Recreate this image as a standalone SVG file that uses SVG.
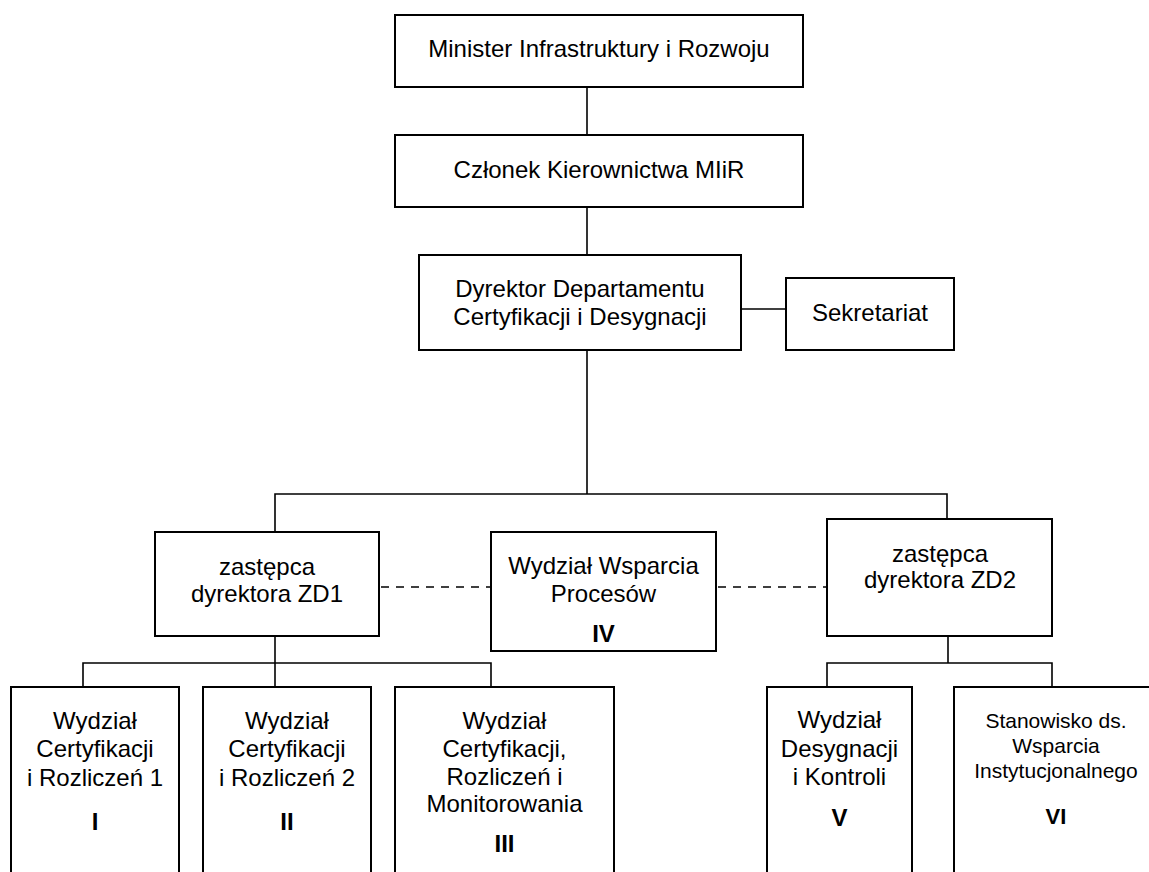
<svg xmlns="http://www.w3.org/2000/svg" width="1149" height="872" viewBox="0 0 1149 872">
<style>
.box{fill:#fff;stroke:#000;stroke-width:2}
.ln{fill:none;stroke:#000;stroke-width:1.6}
.dash{fill:none;stroke:#000;stroke-width:1.6;stroke-dasharray:8 7}
text{font-family:"Liberation Sans",Arial,sans-serif;font-size:24px;fill:#000;text-anchor:middle}
.b{font-weight:bold}
.s{font-size:21px}
</style>
<rect width="1149" height="872" fill="#fff"/>
<g id="connectors">
<line class="ln" x1="587" y1="87" x2="587" y2="135"/>
<line class="ln" x1="587" y1="207" x2="587" y2="255"/>
<line class="ln" x1="741" y1="309" x2="786" y2="309"/>
<polyline class="ln" points="587,350 587,494"/>
<polyline class="ln" points="275,532 275,494 947,494 947,519"/>
<polyline class="ln" points="275,636 275,687"/>
<polyline class="ln" points="83,687 83,663 491,663 491,687"/>
<polyline class="ln" points="948,636 948,663"/>
<polyline class="ln" points="827,687 827,663 1052,663 1052,687"/>
<line class="dash" x1="381" y1="587" x2="491" y2="587"/>
<line class="dash" x1="718" y1="587" x2="827" y2="587"/>
</g>
<g id="minister">
<rect class="box" x="395" y="15" width="408" height="72"/>
<text x="599" y="57">Minister Infrastruktury i Rozwoju</text>
</g>
<g id="czlonek">
<rect class="box" x="395" y="135" width="408" height="72"/>
<text x="599" y="178">Członek Kierownictwa MIiR</text>
</g>
<g id="dyrektor">
<rect class="box" x="419" y="255" width="322" height="95"/>
<text x="580" y="297">Dyrektor Departamentu</text>
<text x="580" y="325">Certyfikacji i Desygnacji</text>
</g>
<g id="sekretariat">
<rect class="box" x="786" y="278" width="168" height="72"/>
<text x="870" y="321">Sekretariat</text>
</g>
<g id="zd1">
<rect class="box" x="155" y="532" width="224" height="104"/>
<text x="267" y="575">zastępca</text>
<text x="267" y="602">dyrektora ZD1</text>
</g>
<g id="wwp">
<rect class="box" x="491" y="532" width="225" height="119"/>
<text x="603.5" y="574">Wydział Wsparcia</text>
<text x="603.5" y="602">Procesów</text>
<text class="b" x="603.5" y="642">IV</text>
</g>
<g id="zd2">
<rect class="box" x="827" y="519" width="225" height="117"/>
<text x="940" y="562">zastępca</text>
<text x="940" y="588">dyrektora ZD2</text>
</g>
<g id="w1">
<rect class="box" x="11" y="687" width="168" height="200"/>
<text x="95" y="729">Wydział</text>
<text x="95" y="757">Certyfikacji</text>
<text x="95" y="786">i Rozliczeń 1</text>
<text class="b" x="95" y="830">I</text>
</g>
<g id="w2">
<rect class="box" x="203" y="687" width="168" height="200"/>
<text x="287" y="729">Wydział</text>
<text x="287" y="757">Certyfikacji</text>
<text x="287" y="786">i Rozliczeń 2</text>
<text class="b" x="287" y="830">II</text>
</g>
<g id="w3">
<rect class="box" x="395" y="687" width="219" height="200"/>
<text x="504.5" y="729">Wydział</text>
<text x="504.5" y="757">Certyfikacji,</text>
<text x="504.5" y="785">Rozliczeń i</text>
<text x="504.5" y="812">Monitorowania</text>
<text class="b" x="504.5" y="852">III</text>
</g>
<g id="w5">
<rect class="box" x="767" y="687" width="145" height="200"/>
<text x="839.5" y="728">Wydział</text>
<text x="839.5" y="757">Desygnacji</text>
<text x="839.5" y="785">i Kontroli</text>
<text class="b" x="839.5" y="826">V</text>
</g>
<g id="w6">
<rect class="box" x="954" y="687" width="210" height="200"/>
<text class="s" x="1056" y="728">Stanowisko ds.</text>
<text class="s" x="1056" y="753">Wsparcia</text>
<text class="s" x="1056" y="778">Instytucjonalnego</text>
<text class="b" x="1056" y="824" style="font-size:22px">VI</text>
</g>
</svg>
